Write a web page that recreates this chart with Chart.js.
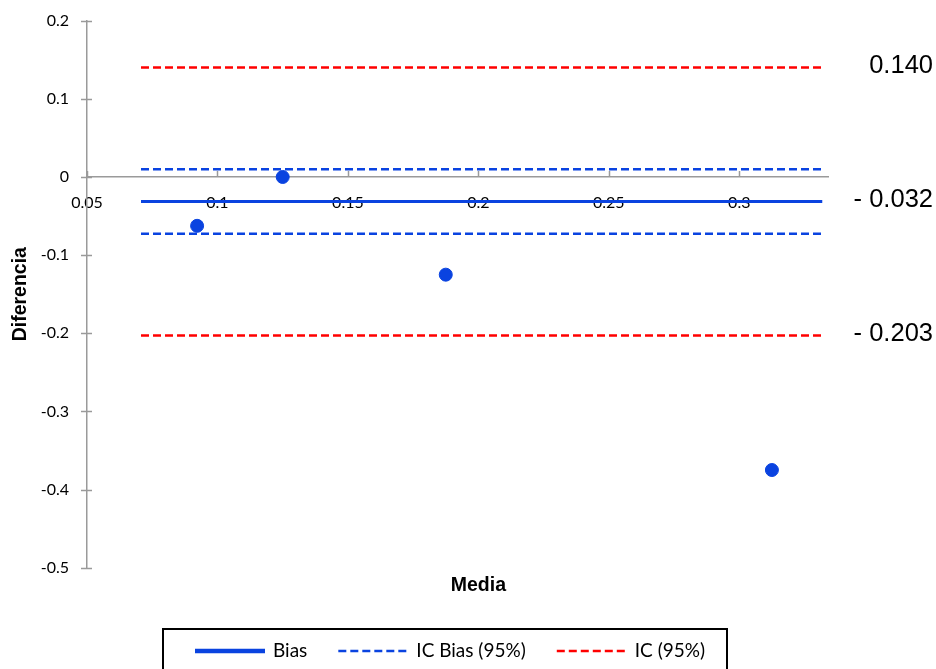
<!DOCTYPE html>
<html>
<head>
<meta charset="utf-8">
<script src="https://cdn.jsdelivr.net/npm/chart.js@4.4.1/dist/chart.umd.min.js"></script>
<style>
  html, body { margin: 0; padding: 0; background: #fff; }
  #wrap { width: 936px; height: 669px; }
</style>
</head>
<body>
<div id="wrap"><canvas id="chart" width="936" height="669"></canvas></div>
<script>
// values
const media = [0.0922, 0.125, 0.1875, 0.3125];
const diferencia = [-0.0625, 0, -0.125, -0.375];
const lineX = [0.0707, 0.3318];
const bias = -0.0315;
const icBias = [0.0098, -0.0725];
const ic = [0.1400, -0.2030];
const sideLabels = [0.140, -0.032, -0.203];
const xRange = [0.05, 0.334];
const yRange = [-0.5, 0.2];

const BLUE = '#0a43e0';
const RED = '#ff0000';
const AXIS = '#9a9a9a';
const TICK_FONT = { family: 'Lato', size: 16 };

function hLine(y) {
    return lineX.map(x => ({ x: x, y: y }));
}

function fmt(v) {
    return String(+v.toFixed(3));
}

const datasets = [
    {
        label: 'Datos',
        data: media.map((x, i) => ({ x: x, y: diferencia[i] })),
        backgroundColor: BLUE,
        borderColor: BLUE,
        pointRadius: 6.5,
        showLine: false
    },
    { label: 'Bias', data: hLine(bias), borderColor: BLUE, borderWidth: 3 },
    { label: 'IC Bias (95%)', data: hLine(icBias[0]), borderColor: BLUE, borderWidth: 2.5, borderDash: [8, 4] },
    { label: 'IC Bias (95%)', data: hLine(icBias[1]), borderColor: BLUE, borderWidth: 2.5, borderDash: [8, 4] },
    { label: 'IC (95%)', data: hLine(ic[0]), borderColor: RED, borderWidth: 2.5, borderDash: [8, 4] },
    { label: 'IC (95%)', data: hLine(ic[1]), borderColor: RED, borderWidth: 2.5, borderDash: [8, 4] }
];
datasets.slice(1).forEach(d => {
    d.showLine = true;
    d.pointRadius = 0;
    d.fill = false;
});

// legend entries point at the dataset that gives their style
const legendEntries = [1, 2, 4];

const extras = {
    id: 'extras',
    afterDraw(chart) {
        const ctx = chart.ctx;
        const xs = chart.scales.x;
        const ys = chart.scales.y;
        const y0 = ys.getPixelForValue(0);
        ctx.save();

        // tick marks: crossing on y, inside on x
        ctx.strokeStyle = AXIS;
        ctx.lineWidth = 1.5;
        ys.ticks.forEach(t => {
            const py = Math.round(ys.getPixelForValue(t.value)) + 0.5;
            ctx.beginPath();
            ctx.moveTo(xs.left - 6, py);
            ctx.lineTo(xs.left + 5, py);
            ctx.stroke();
        });
        xs.ticks.forEach(t => {
            const px = Math.round(xs.getPixelForValue(t.value)) + 0.5;
            ctx.beginPath();
            ctx.moveTo(px, y0);
            ctx.lineTo(px, y0 - 6);
            ctx.stroke();
        });

        // axis titles
        ctx.fillStyle = '#000';
        ctx.font = "bold 19.5px 'Liberation Sans', Arial, sans-serif";
        ctx.textAlign = 'center';
        ctx.textBaseline = 'middle';
        ctx.fillText('Media', xs.getPixelForValue(0.2), 586);
        ctx.save();
        ctx.translate(21, (ys.top + ys.bottom) / 2);
        ctx.rotate(-Math.PI / 2);
        ctx.fillText('Diferencia', 0, 0);
        ctx.restore();

        // limit values on the right
        ctx.font = "25.5px 'Liberation Sans', Arial, sans-serif";
        ctx.textAlign = 'right';
        sideLabels.forEach(v => {
            const txt = v < 0 ? '- ' + Math.abs(v).toFixed(3) : v.toFixed(3);
            ctx.fillText(txt, 933, ys.getPixelForValue(v) - 2);
        });

        // legend box
        const boxLeft = 163, boxTop = 629, boxRight = 727;
        ctx.strokeStyle = '#000';
        ctx.lineWidth = 2;
        ctx.strokeRect(boxLeft, boxTop, boxRight - boxLeft, 60);
        ctx.font = "19px Lato, sans-serif";
        ctx.textAlign = 'left';
        ctx.textBaseline = 'middle';
        const ly = 651;
        let lx = boxLeft + 32;
        legendEntries.forEach(i => {
            const d = chart.data.datasets[i];
            ctx.strokeStyle = d.borderColor;
            ctx.lineWidth = d.borderDash ? 2.5 : 4.5;
            ctx.setLineDash(d.borderDash || []);
            ctx.beginPath();
            ctx.moveTo(lx, ly);
            ctx.lineTo(lx + 70, ly);
            ctx.stroke();
            ctx.setLineDash([]);
            ctx.fillStyle = '#000';
            ctx.fillText(d.label, lx + 78, ly);
            lx += 78 + ctx.measureText(d.label).width + 31;
        });
        ctx.restore();
    }
};

new Chart(document.getElementById('chart'), {
    type: 'scatter',
    data: { datasets: datasets },
    options: {
        responsive: false,
        animation: false,
        layout: { padding: { left: 0, right: 108, top: 20.7, bottom: 101.3 } },
        plugins: {
            legend: { display: false },
            tooltip: { enabled: false }
        },
        scales: {
            x: {
                type: 'linear',
                position: { y: 0 },
                min: xRange[0],
                max: xRange[1],
                grid: { display: false, drawTicks: false },
                border: { display: true, color: AXIS, width: 1.5 },
                ticks: {
                    stepSize: 0.05,
                    includeBounds: false,
                    autoSkip: false,
                    maxRotation: 0,
                    padding: 16,
                    color: '#000',
                    font: TICK_FONT,
                    callback: v => fmt(v)
                }
            },
            y: {
                type: 'linear',
                position: 'left',
                min: yRange[0],
                max: yRange[1],
                afterFit: s => {
                    s.width = 87;
                    s.paddingTop = 0;
                    s.paddingBottom = 0;
                },
                grid: { display: false, drawTicks: false },
                border: { display: true, color: AXIS, width: 1.5 },
                ticks: {
                    stepSize: 0.1,
                    padding: 18,
                    color: '#000',
                    font: TICK_FONT,
                    callback: v => fmt(v)
                }
            }
        }
    },
    plugins: [extras]
});
</script>
</body>
</html>
